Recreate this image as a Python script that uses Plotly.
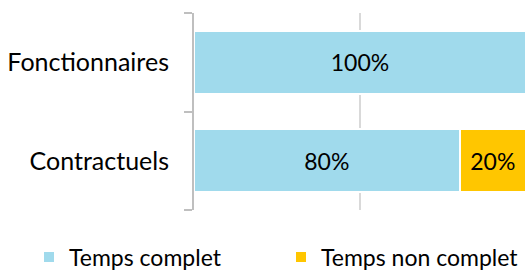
import plotly.graph_objects as go

categories = ["Contractuels", "Fonctionnaires"]
temps_complet = [80, 100]
temps_non_complet = [20, 0]
series_names = ["Temps complet", "Temps non complet"]
colors = ["#A0DAEC", "#FFC600"]

FONT = "Lato"
FS = 23
W, H = 526, 271

fig = go.Figure()
for i, (name, vals, col) in enumerate(zip(series_names, [temps_complet, temps_non_complet], colors)):
    fig.add_trace(go.Bar(
        y=categories, x=vals, name=name, orientation="h",
        marker=dict(color=col, line=dict(color="white", width=2)),
        text=[f"{v}%" if v else "" for v in vals],
        textposition="inside", insidetextanchor="middle",
        textfont=dict(family=FONT, size=FS, color="black"),
        width=0.64,
        legend="legend" if i == 0 else "legend2",
    ))

leg_common = dict(orientation="h", xref="container", yref="container",
                  xanchor="left", yanchor="middle",
                  font=dict(family=FONT, size=FS, color="black"),
                  itemclick=False, itemdoubleclick=False,
                  bgcolor="rgba(0,0,0,0)")

fig.update_layout(
    barmode="stack",
    width=W, height=H,
    margin=dict(l=194, r=0, t=13, b=61),
    plot_bgcolor="white", paper_bgcolor="white",
    font=dict(family=FONT, size=FS, color="black"),
    showlegend=True,
    legend=dict(x=29 / W, y=14 / H, **leg_common),
    legend2=dict(x=281 / W, y=14 / H, **leg_common),
    xaxis=dict(range=[0, 100], tickvals=[0, 50, 100], showticklabels=False,
               showgrid=True, gridcolor="#D9D9D9", gridwidth=2,
               zeroline=False, showline=False, fixedrange=True),
    yaxis=dict(showline=True, linecolor="#BFBFBF", linewidth=2,
               ticks="outside", ticklen=8, tickcolor="#BFBFBF", tickwidth=2,
               tickson="boundaries", ticklabelstandoff=18,
               tickfont=dict(family=FONT, size=25, color="black"),
               showgrid=False, fixedrange=True),
)

fig.write_html("out.html", config={"displayModeBar": False},
               post_script="document.body.style.margin='0';document.body.style.padding='0';")
